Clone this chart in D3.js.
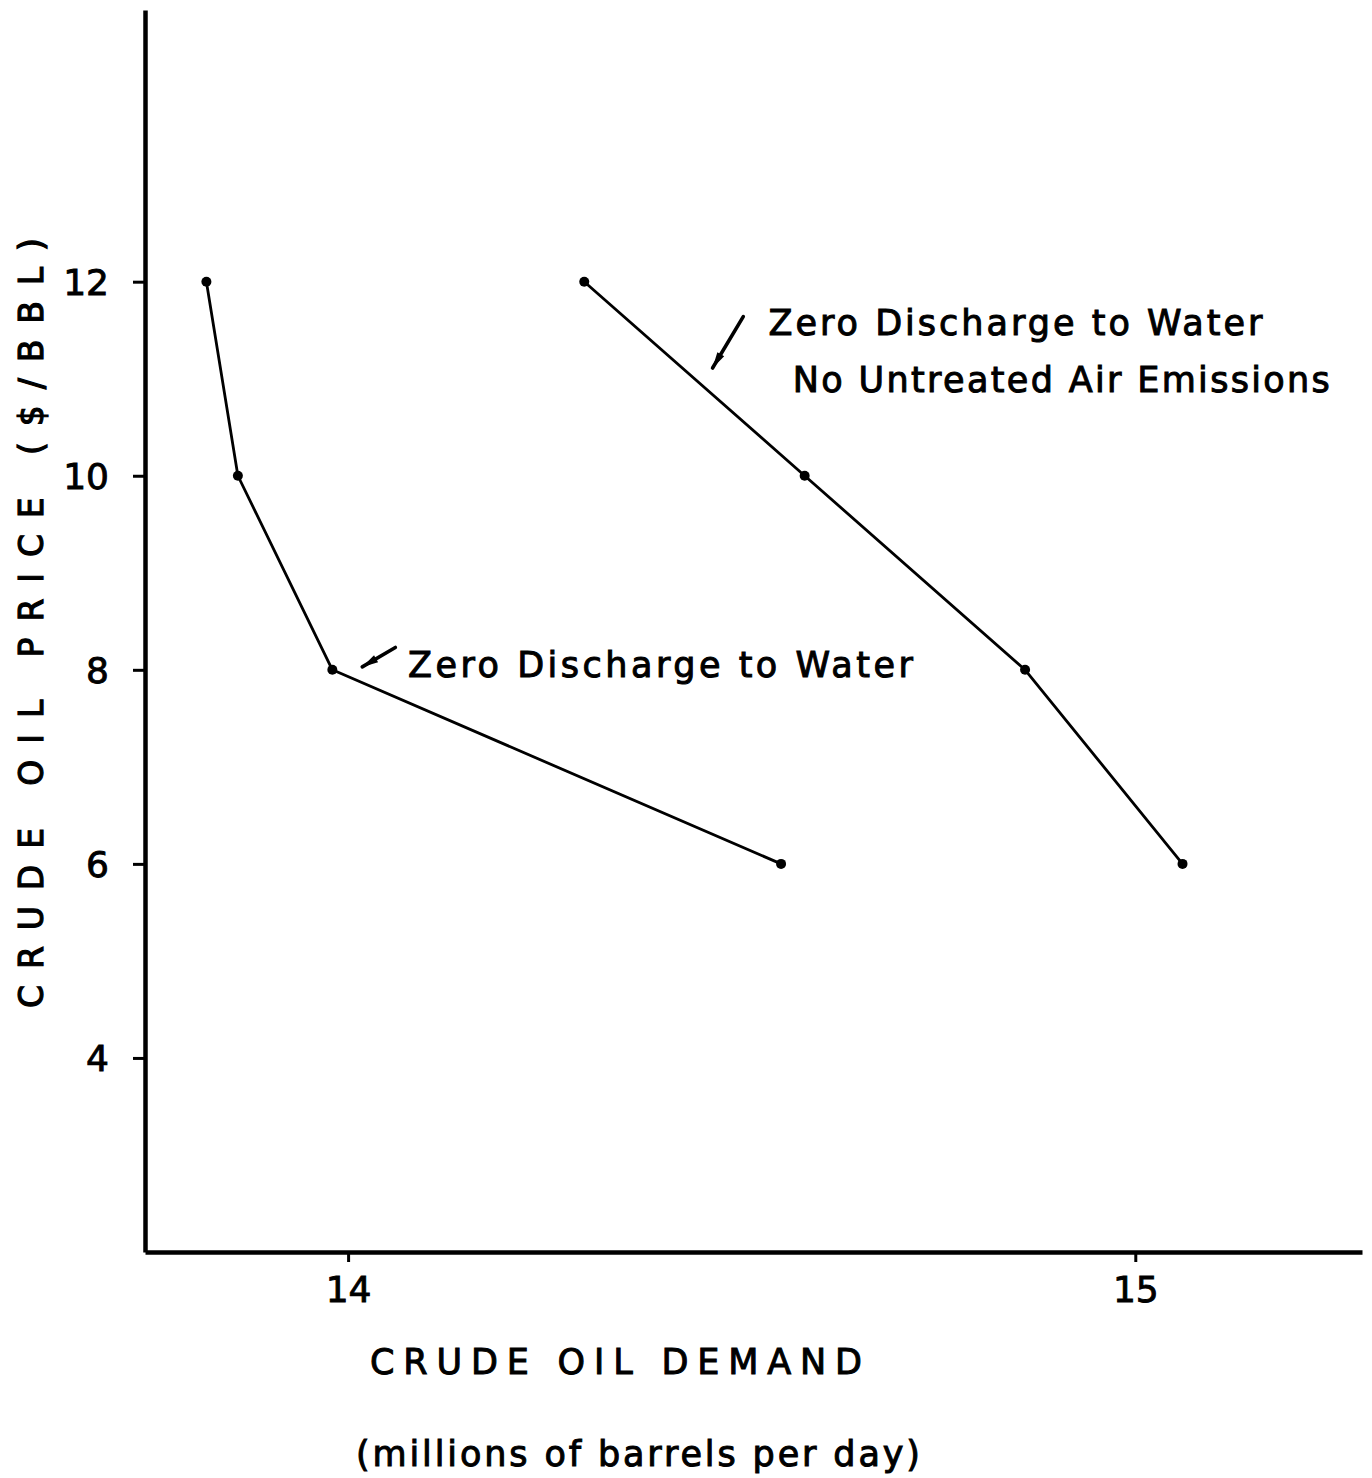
<!DOCTYPE html>
<html>
<head>
<meta charset="utf-8">
<script src="https://cdn.jsdelivr.net/npm/d3@7"></script>
<style>
  html, body { margin: 0; padding: 0; background: #fff; }
  svg { display: block; }
  text { font-family: "DejaVu Sans", "Liberation Sans", sans-serif; fill: #000; }
</style>
</head>
<body>
<svg id="chart" width="1372" height="1478"></svg>
<script>
// ---- data ----
const xTicks = [14, 15];
const yTicks = [4, 6, 8, 10, 12];
const priceLevels = [12, 10, 8, 6];
const demandZeroWater = [13.82, 13.86, 13.98, 14.55];
const demandZeroWaterNoAir = [14.30, 14.58, 14.86, 15.06];
const seriesLabels = [
  ["Zero Discharge to Water"],
  ["Zero Discharge to Water", "No Untreated Air Emissions"]
];
const xTitle = "CRUDE OIL DEMAND";
const xSubTitle = "(millions of barrels per day)";
const yTitle = "CRUDE OIL PRICE ($/BBL)";

// annotation anchors in data units
const labelAnchors = [
  [[14.076, 7.93]],
  [[14.534, 11.45], [14.565, 10.86]]
];
const arrowTails = [[14.060, 8.23], [14.502, 11.64]];
const arrowHeads = [[14.018, 8.03], [14.463, 11.11]];
const labelWidths = [[505], [494, 537]];

// ---- layout ----
const svg = d3.select("#chart");
const x = d3.scaleLinear().domain([13.742, 15.288]).range([145, 1362]);
const y = d3.scaleLinear().domain([2, 14.8]).range([1252, 10]);

// axes
const xAxis = svg.append("g").attr("transform", `translate(0,${y(2)})`)
  .call(d3.axisBottom(x).tickValues(xTicks).tickSizeInner(10).tickSizeOuter(0)
    .tickPadding(14).tickFormat(d3.format("d")));
const yAxis = svg.append("g").attr("transform", `translate(${x(13.742)},0)`)
  .call(d3.axisLeft(y).tickValues(yTicks).tickSizeInner(12).tickSizeOuter(0)
    .tickPadding(24).tickFormat(d3.format("d")));

[xAxis, yAxis].forEach(g => {
  g.select(".domain").attr("stroke", "#000").attr("stroke-width", 4.5);
  g.selectAll(".tick line").attr("stroke", "#000").attr("stroke-width", 3);
  g.selectAll(".tick text").attr("font-size", 36).attr("fill", "#000")
    .attr("stroke", "#000").attr("stroke-width", 0.9)
    .attr("font-family", "DejaVu Sans, sans-serif");
});
yAxis.selectAll(".tick text").attr("dy", "0.36em");

// series
const series = [demandZeroWater, demandZeroWaterNoAir].map(arr =>
  arr.map((d, i) => ({ x: d, y: priceLevels[i] })));

const line = d3.line().x(d => x(d.x)).y(d => y(d.y));
series.forEach(s => {
  svg.append("path").datum(s).attr("d", line)
    .attr("fill", "none").attr("stroke", "#000").attr("stroke-width", 2.8)
    .attr("stroke-linejoin", "round");
  svg.selectAll(null).data(s).enter().append("circle")
    .attr("cx", d => x(d.x)).attr("cy", d => y(d.y)).attr("r", 5).attr("fill", "#000");
});

// arrows
arrowTails.forEach((t, i) => {
  const h = arrowHeads[i];
  const x1 = x(t[0]), y1 = y(t[1]), x2 = x(h[0]), y2 = y(h[1]);
  svg.append("line").attr("x1", x1).attr("y1", y1).attr("x2", x2).attr("y2", y2)
    .attr("stroke", "#000").attr("stroke-width", 3.6).attr("stroke-linecap", "round");
  const ang = Math.atan2(y2 - y1, x2 - x1);
  const L = 16, W = 4;
  const bx = x2 - L * Math.cos(ang), by = y2 - L * Math.sin(ang);
  const px = -Math.sin(ang) * W, py = Math.cos(ang) * W;
  svg.append("path")
    .attr("d", `M${x2},${y2}L${bx + px},${by + py}L${bx - px},${by - py}Z`)
    .attr("fill", "#000");
});

// series labels
seriesLabels.forEach((lines, i) => {
  lines.forEach((txt, j) => {
    const a = labelAnchors[i][j];
    svg.append("text").attr("x", x(a[0])).attr("y", y(a[1]))
      .attr("font-size", 35).attr("stroke", "#000").attr("stroke-width", 1)
      .attr("textLength", labelWidths[i][j])
      .attr("lengthAdjust", "spacing").text(txt);
  });
});

// axis titles
svg.append("text").attr("x", 370).attr("y", 1374).attr("font-size", 35)
  .attr("stroke", "#000").attr("stroke-width", 1)
  .attr("textLength", 492).attr("lengthAdjust", "spacing").text(xTitle);
svg.append("text").attr("x", 356).attr("y", 1466).attr("font-size", 35)
  .attr("stroke", "#000").attr("stroke-width", 1)
  .attr("textLength", 564).attr("lengthAdjust", "spacing").text(xSubTitle);
svg.append("text").attr("transform", "translate(43,1008) rotate(-90)")
  .attr("font-size", 33).attr("stroke", "#000").attr("stroke-width", 1.2)
  .attr("textLength", 770).attr("lengthAdjust", "spacing").text(yTitle);
</script>
</body>
</html>
